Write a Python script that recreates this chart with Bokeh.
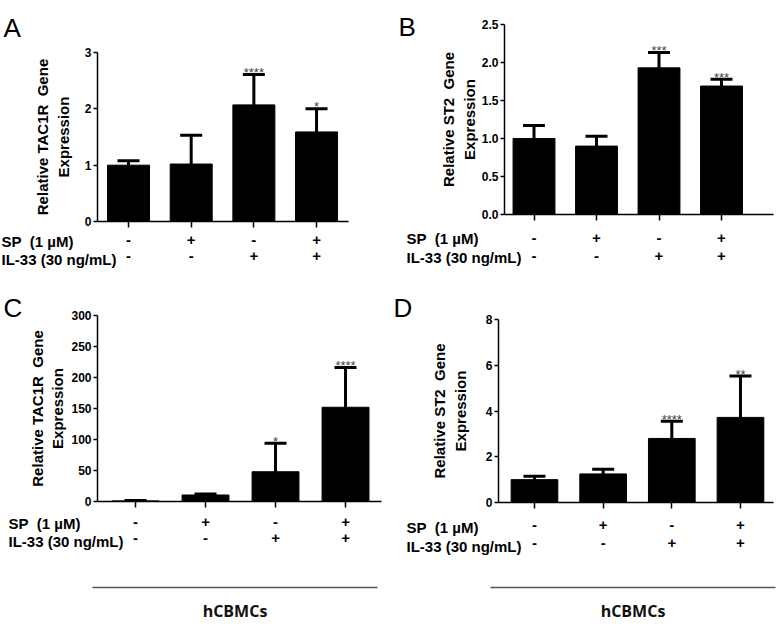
from bokeh.plotting import figure
from bokeh.models import (ColumnDataSource, Whisker, TeeHead, Label, FixedTicker,
                          NumeralTickFormatter, Range1d, LinearAxis)
from bokeh.layouts import column, row
from bokeh.embed import file_html
from bokeh.resources import INLINE
from bokeh.core.properties import value

# ---------------- data ----------------
conditions = [1, 2, 3, 4]
sp_signs = ["-", "+", "-", "+"]
il33_signs = ["-", "-", "+", "+"]
sp_label = "SP\u00a0 (1 µM)"
il33_label = "IL-33 (30 ng/mL)"
group_label = "hCBMCs"

a_mean = [1.00, 1.02, 2.07, 1.59]
a_err = [0.08, 0.51, 0.54, 0.41]
a_stars = ["", "", "****", "*"]
a_ticks = [0, 1, 2, 3]

b_mean = [1.00, 0.90, 1.93, 1.69]
b_err = [0.17, 0.13, 0.20, 0.09]
b_stars = ["", "", "***", "***"]
b_ticks = [0.0, 0.5, 1.0, 1.5, 2.0, 2.5]

c_mean = [1.0, 10.5, 48.0, 152.0]
c_err = [0.6, 1.5, 46.0, 64.0]
c_stars = ["", "", "*", "****"]
c_ticks = [0, 50, 100, 150, 200, 250, 300]

d_mean = [1.00, 1.25, 2.80, 3.72]
d_err = [0.15, 0.20, 0.75, 1.81]
d_stars = ["", "", "****", "**"]
d_ticks = [0, 2, 4, 6, 8]

FONT = "Liberation Sans"


def make_panel(letter, means, errs, stars, ylabel, yticks, yfmt, width, height,
               fl, fr, ft, fb, xstart, xend, bar_w, sp_dy, il_dy,
               sp_standoff, il_standoff, lab_x, letter_x, letter_base,
               title_standoff, sp_side, il_side):
    frame_w = width - fl - fr
    frame_h = height - ft - fb
    ymin, ymax = yticks[0], yticks[-1]
    ppx = frame_w / (xend - xstart)
    ppy = frame_h / (ymax - ymin)

    def px2x(px):  # canvas px -> data x
        return xstart + (px - fl) / ppx

    def px2y(py):  # canvas px (from top) -> data y
        return ymin + (ft + frame_h - py) / ppy

    src = ColumnDataSource(dict(
        x=conditions, mean=means,
        upper=[m + e for m, e in zip(means, errs)], star=stars))
    p = figure(width=width, height=height, output_backend="svg",
               toolbar_location=None,
               x_range=Range1d(xstart, xend), y_range=Range1d(ymin, ymax),
               min_border_left=fl, min_border_right=fr,
               min_border_top=ft, min_border_bottom=fb)
    p.outline_line_color = None
    p.xgrid.visible = False
    p.ygrid.visible = False

    p.vbar(x="x", top="mean", width=bar_w, source=src,
           fill_color="black", line_color="black")
    p.add_layout(Whisker(base="x", lower="mean", upper="upper", source=src,
                         dimension="height", line_width=3, line_color="black",
                         lower_head=None,
                         upper_head=TeeHead(size=22, line_width=3, line_color="black")))
    p.text(x="x", y="upper", text="star", source=src, text_align="center",
           text_baseline="alphabetic", y_offset=-2,
           text_font=value(FONT), text_font_size="13px", text_color="#444444")

    for ax in (p.xaxis[0], p.yaxis[0]):
        ax.axis_line_width = 1.5
        ax.axis_line_color = "black"
        ax.major_tick_line_width = 1.5
        ax.major_tick_line_color = "black"
        ax.major_tick_in = 0
        ax.minor_tick_line_color = None
    tick_font = dict(major_label_text_font=FONT, major_label_text_font_style="bold",
                     major_label_text_font_size="15px", major_label_text_color="black")
    # main x axis: its tick labels are the SP row
    p.xaxis.ticker = FixedTicker(ticks=conditions)
    p.xaxis.major_tick_out = 6
    p.xaxis.major_label_overrides = {c: s for c, s in zip(conditions, sp_signs)}
    p.xaxis.major_label_standoff = sp_standoff
    for k, v in tick_font.items():
        setattr(p.xaxis[0], k, v)
    # second x axis: the IL-33 row
    il_axis = LinearAxis(ticker=FixedTicker(ticks=conditions),
                         major_label_overrides={c: s for c, s in zip(conditions, il33_signs)},
                         axis_line_color=None, major_tick_line_color=None,
                         minor_tick_line_color=None, major_tick_out=0, major_tick_in=0,
                         major_label_standoff=il_standoff, **tick_font)
    p.add_layout(il_axis, "below")

    p.yaxis.ticker = FixedTicker(ticks=yticks)
    p.yaxis.formatter = NumeralTickFormatter(format=yfmt)
    p.yaxis.major_tick_out = 4
    p.yaxis.major_label_standoff = 2
    p.yaxis.major_label_text_font = FONT
    p.yaxis.major_label_text_font_style = "bold"
    p.yaxis.major_label_text_font_size = "12px"
    p.yaxis.major_label_text_color = "black"
    p.yaxis.axis_label = ylabel
    p.yaxis.axis_label_text_font = FONT
    p.yaxis.axis_label_text_font_style = "bold"
    p.yaxis.axis_label_text_font_size = "15px"
    p.yaxis.axis_label_text_color = "black"
    p.yaxis.axis_label_standoff = title_standoff

    txt = dict(text_font=FONT, text_font_style="bold", text_font_size="15px",
               text_color="black", text_align="left", text_baseline="middle")
    p.add_layout(Label(x=px2x(lab_x), y=px2y(ft + frame_h + sp_dy), text=sp_label, **txt),
                 sp_side)
    p.add_layout(Label(x=px2x(lab_x), y=px2y(ft + frame_h + il_dy), text=il33_label, **txt),
                 il_side)
    p.add_layout(Label(x=px2x(letter_x), y=px2y(letter_base), text=letter,
                       text_align="left", text_baseline="alphabetic",
                       text_font=FONT, text_font_size="26px", text_color="black"),
                 "left")
    return p


def make_group(width, height, fl, fr, ft, fb, standoff):
    p = figure(width=width, height=height, output_backend="svg",
               toolbar_location=None, x_range=Range1d(0, 1), y_range=Range1d(0, 1),
               min_border_left=fl, min_border_right=fr,
               min_border_top=ft, min_border_bottom=fb)
    p.outline_line_color = None
    p.xgrid.visible = False
    p.ygrid.visible = False
    p.yaxis.visible = False
    ax = p.xaxis[0]
    ax.ticker = FixedTicker(ticks=[])
    ax.axis_line_color = "#555555"
    ax.axis_line_width = 1.5
    ax.major_tick_line_color = None
    ax.minor_tick_line_color = None
    ax.major_tick_out = 0
    ax.major_label_standoff = 0
    ax.axis_label = group_label
    ax.axis_label_text_font = "Open Sans"
    ax.axis_label_text_font_style = "bold"
    ax.axis_label_text_font_size = "16px"
    ax.axis_label_text_color = "#111111"
    ax.axis_label_standoff = standoff
    return p


# A at (0,0) 393x284, B at (393,0) 384x290, C at (0,284) 393x296, D at (393,290) 384x290
pA = make_panel("A", a_mean, a_err, a_stars, "Relative TAC1R\u00a0 Gene\nExpression",
                a_ticks, "0", 393, 284, 97, 45, 52, 63, 0.505, 4.51, 0.67,
                20, 38, 7, 3, 1, 3, 27, 10, "above", "above")
pB = make_panel("B", b_mean, b_err, b_stars, "Relative ST2\u00a0 Gene\nExpression",
                b_ticks, "0.0", 384, 290, 111, 4, 24, 76, 0.528, 4.832, 0.67,
                24, 43, 12, 5, 13, 5, 26, 1, "above", "below")
pC = make_panel("C", c_mean, c_err, c_stars, "Relative TAC1R\u00a0 Gene\nExpression",
                c_ticks, "0", 393, 296, 97, 12, 31, 79, 0.457, 4.514, 0.67,
                22, 40, 9, 3, 8, 3, 23, 2, "above", "below")
pD = make_panel("D", d_mean, d_err, d_stars, "Relative ST2\u00a0 Gene\nExpression",
                d_ticks, "0", 384, 290, 105, 4, 29, 78, 0.476, 4.481, 0.68,
                25, 44, 11, 5, 13, 0, 17, 14, "above", "below")
pE = make_group(393, 44, 92, 16, 4, 35, 12)
pF = make_group(384, 44, 97, 2, 4, 35, 12)

layout = row(column(column(pA), column(pC), column(pE)),
             column(column(pB), column(pD), column(pF)))
open("out.html", "w").write(file_html(layout, INLINE))
